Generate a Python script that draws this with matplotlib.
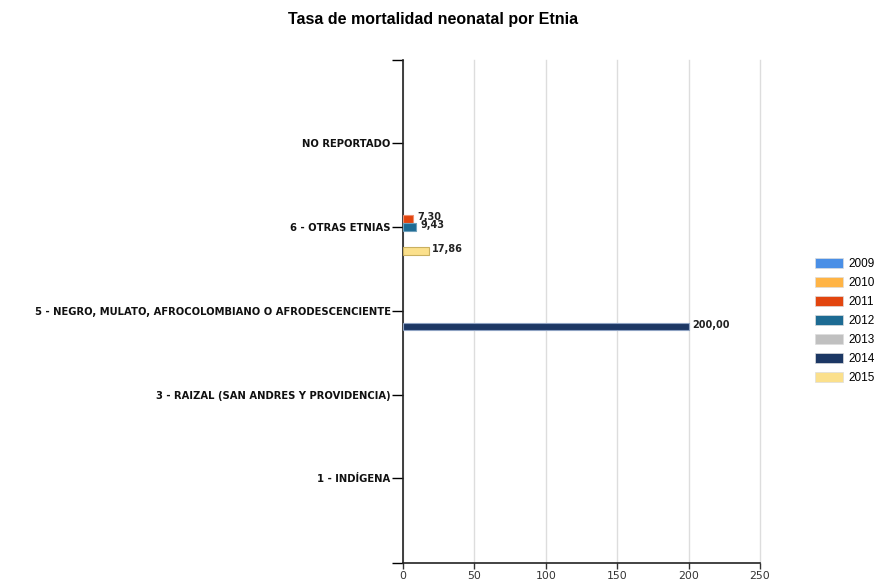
import numpy as np
import matplotlib
matplotlib.use("Agg")
import matplotlib.pyplot as plt
from matplotlib.patches import Patch

# categories from bottom to top
categories = ["1 - INDÍGENA",
              "3 - RAIZAL (SAN ANDRES Y PROVIDENCIA)",
              "5 - NEGRO, MULATO, AFROCOLOMBIANO O AFRODESCENCIENTE",
              "6 - OTRAS ETNIAS",
              "NO REPORTADO"]
years = ["2009", "2010", "2011", "2012", "2013", "2014", "2015"]
colors = ["#4a8fe6", "#ffb445", "#e2450f", "#1d6b93", "#c0c0c0", "#1c3764", "#fbe08c"]
edges = ["#8fbaf0", "#ffd08a", "#f09070", "#6fa0bb", "#e0e0e0", "#8ea2c2", "#c9b060"]

# values per year, one per category (None = no data)
v2009 = [None, None, None, None, None]
v2010 = [None, None, None, None, None]
v2011 = [None, None, None, 7.30, None]
v2012 = [None, None, None, 9.43, None]
v2013 = [None, None, None, None, None]
v2014 = [None, None, 200.00, None, None]
v2015 = [None, None, None, 17.86, None]
series = [v2009, v2010, v2011, v2012, v2013, v2014, v2015]

fig = plt.figure(figsize=(8.83, 5.85), dpi=100)
ax = fig.add_axes([0.4564, 0.0376, 0.8607 - 0.4564, 0.8974 - 0.0376])

step = 0.095
y = np.arange(len(categories))
for i, (vals, yr) in enumerate(zip(series, years)):
    for j, v in enumerate(vals):
        if v is None:
            continue
        yy = y[j] + (3 - i) * step
        ax.barh(yy, v, height=0.09, color=colors[i], edgecolor=edges[i], linewidth=0.8, zorder=3)
        ax.text(v + 2.5, yy + 0.02, f"{v:.2f}".replace(".", ","), fontsize=7,
                fontweight="bold", va="center", ha="left", color="#222222", zorder=4)

ax.set_xlim(0, 250)
ax.set_ylim(-1.01, 4.99)
ax.set_xticks([0, 50, 100, 150, 200, 250])
ax.set_yticks(y)
ax.set_yticklabels(categories, fontsize=7.2, fontweight="bold", color="#111111")
ax.set_yticks([-1.01, 4.99], minor=True)
ax.tick_params(axis="y", which="both", length=8, width=1, direction="out", pad=1)
ax.tick_params(axis="x", length=4, width=1, labelsize=7.8, colors="#333333", pad=2)
ax.xaxis.grid(True, color="#dddddd", linewidth=1, zorder=0)
for gl in ax.get_xgridlines():
    gl.set_clip_on(False)
for s in ["top", "right"]:
    ax.spines[s].set_visible(False)
ax.spines["left"].set_linewidth(1.2)
ax.spines["bottom"].set_linewidth(1.2)
ax.spines["left"].set_color("#222222")
ax.spines["bottom"].set_color("#222222")

fig.suptitle("Tasa de mortalidad neonatal por Etnia", x=0.49, y=0.98,
             fontsize=11.5, fontweight="bold", family="Liberation Sans")

handles = [Patch(facecolor=c, edgecolor="#dddddd", linewidth=0.5) for c in colors]
fig.legend(handles, years, loc="center left", bbox_to_anchor=(0.923, 0.451),
           frameon=False, handlelength=2.4, handleheight=0.9,
           labelspacing=0.6, handletextpad=0.4, borderpad=0, borderaxespad=0,
           prop={"family": "Liberation Sans", "size": 8.5})

fig.savefig("out.png", dpi=100)
